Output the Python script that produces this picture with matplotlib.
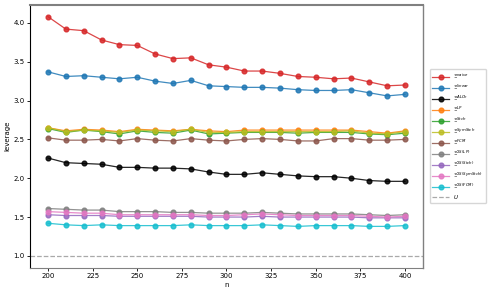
import matplotlib
matplotlib.use("Agg")
import matplotlib.pyplot as plt

n = [200, 210, 220, 230, 240, 250, 260, 270, 280, 290, 300,
     310, 320, 330, 340, 350, 360, 370, 380, 390, 400]

naive = [4.08, 3.92, 3.90, 3.78, 3.72, 3.71, 3.60, 3.54, 3.55, 3.46, 3.43,
         3.38, 3.38, 3.35, 3.31, 3.30, 3.28, 3.29, 3.24, 3.19, 3.20]
linear = [3.37, 3.31, 3.32, 3.30, 3.28, 3.30, 3.25, 3.22, 3.26, 3.19, 3.18,
          3.17, 3.17, 3.16, 3.14, 3.13, 3.13, 3.14, 3.10, 3.06, 3.08]
alch = [2.26, 2.20, 2.19, 2.18, 2.14, 2.14, 2.13, 2.13, 2.12, 2.08, 2.05,
        2.05, 2.07, 2.05, 2.03, 2.02, 2.02, 2.00, 1.97, 1.96, 1.96]
lp = [2.65, 2.61, 2.63, 2.62, 2.60, 2.63, 2.62, 2.61, 2.63, 2.61, 2.60,
      2.62, 2.62, 2.62, 2.62, 2.62, 2.62, 2.62, 2.60, 2.58, 2.61]
stch = [2.64, 2.59, 2.62, 2.60, 2.57, 2.61, 2.59, 2.58, 2.62, 2.57, 2.58,
        2.59, 2.59, 2.59, 2.58, 2.59, 2.59, 2.59, 2.57, 2.56, 2.58]
symstch = [2.65, 2.60, 2.62, 2.61, 2.59, 2.62, 2.61, 2.60, 2.63, 2.59, 2.59,
           2.60, 2.60, 2.60, 2.60, 2.60, 2.60, 2.61, 2.58, 2.57, 2.60]
fcm = [2.52, 2.49, 2.49, 2.50, 2.48, 2.51, 2.49, 2.48, 2.51, 2.49, 2.48,
       2.50, 2.51, 2.50, 2.48, 2.48, 2.51, 2.51, 2.49, 2.49, 2.50]
ss_lp = [1.61, 1.60, 1.59, 1.59, 1.57, 1.57, 1.57, 1.56, 1.56, 1.55, 1.55,
         1.55, 1.56, 1.55, 1.54, 1.54, 1.54, 1.54, 1.53, 1.52, 1.53]
ss_stch = [1.53, 1.52, 1.52, 1.52, 1.51, 1.51, 1.51, 1.51, 1.51, 1.50, 1.50,
           1.50, 1.51, 1.50, 1.50, 1.50, 1.50, 1.50, 1.49, 1.49, 1.49]
ss_symstch = [1.57, 1.56, 1.55, 1.55, 1.53, 1.53, 1.53, 1.53, 1.53, 1.52, 1.52,
              1.53, 1.54, 1.53, 1.52, 1.52, 1.52, 1.52, 1.51, 1.50, 1.51]
ss_fcm = [1.42, 1.40, 1.39, 1.40, 1.39, 1.39, 1.39, 1.39, 1.40, 1.39, 1.39,
          1.39, 1.40, 1.39, 1.38, 1.39, 1.39, 1.39, 1.38, 1.38, 1.39]
upper = 1.0

series = [
    (r"$\Xi^{naive}$", naive, "tab:red"),
    (r"$\Xi^{linear}$", linear, "tab:blue"),
    (r"$\Xi^{ALCh}$", alch, "black"),
    (r"$\Xi^{LP}$", lp, "tab:orange"),
    (r"$\Xi^{Stch}$", stch, "tab:green"),
    (r"$\Xi^{SymStch}$", symstch, "tab:olive"),
    (r"$\Xi^{FCM}$", fcm, "tab:brown"),
    (r"$\Xi^{\Sigma S(LP)}$", ss_lp, "tab:gray"),
    (r"$\Xi^{\Sigma S(Stch)}$", ss_stch, "tab:purple"),
    (r"$\Xi^{\Sigma S(SymStch)}$", ss_symstch, "tab:pink"),
    (r"$\Xi^{\Sigma S(FCM)}$", ss_fcm, "tab:cyan"),
]

fig = plt.figure(figsize=(4.94, 2.95), dpi=100)
ax = fig.add_axes([0.061, 0.092, 0.795, 0.892])

for label, vals, color in series:
    ax.plot(n, vals, marker="o", markersize=3.4, linewidth=0.9,
            color=color, alpha=0.85, label=label)
ax.axhline(upper, color="darkgray", linestyle="--", linewidth=0.9, label=r"$U$")

ax.set_xlabel("n", fontsize=5, labelpad=2)
ax.set_ylabel("leverage", fontsize=5, labelpad=2)
ax.tick_params(labelsize=5, length=2, width=0.6, pad=2)

for side in ["top", "right", "bottom"]:
    ax.spines[side].set_color("gray")
ax.spines["top"].set_linewidth(1.5)
ax.spines["right"].set_linewidth(1.0)
ax.spines["bottom"].set_linewidth(0.8)
ax.spines["left"].set_color("black")
ax.spines["left"].set_linewidth(0.8)

ax.legend(loc="center left", bbox_to_anchor=(1.01, 0.5), fontsize=4,
          frameon=True, borderpad=0.5, labelspacing=0.3, handlelength=3)

fig.savefig("out.png", dpi=100)
